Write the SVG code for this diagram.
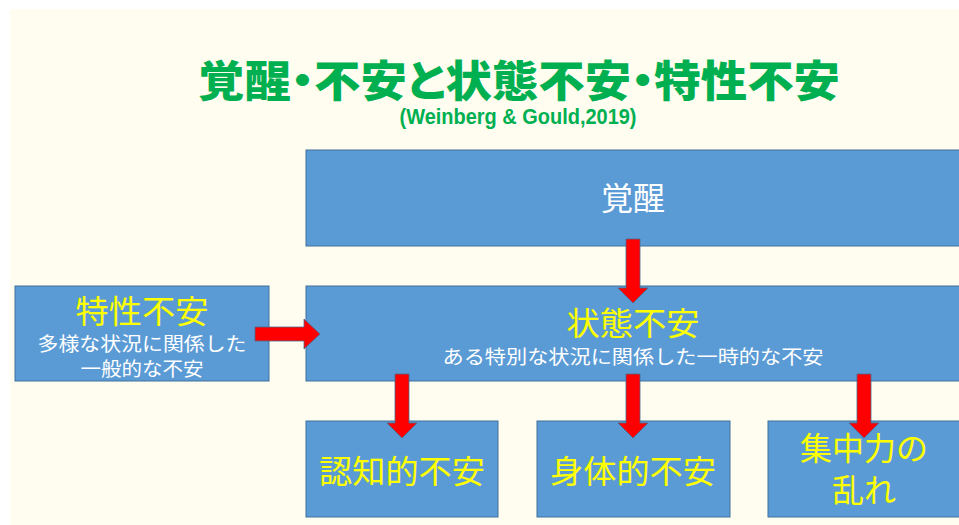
<svg xmlns="http://www.w3.org/2000/svg" width="959" height="525" viewBox="0 0 959 525">
  <style>
    .box { fill: #5B9BD5; stroke: #41719C; stroke-width: 1; }
    .arrow { fill: #FF0000; stroke: #4A6A8E; stroke-width: 0.8; }
    .jp { font-family: "Noto Sans CJK JP", "Noto Sans", sans-serif; text-anchor: middle; }
    .big { font-size: 32px; }
    .small { font-size: 19px; }
    .yellow { fill: #FFFF00; }
    .white { fill: #FFFFFF; }
    .title { font-family: "Noto Sans CJK JP", sans-serif; font-weight: 900; font-size: 43px; fill: #00B050; text-anchor: middle; font-feature-settings: "palt" 1; }
    .cite { font-family: "Liberation Sans", Arial, sans-serif; font-weight: bold; font-size: 22px; fill: #00B050; text-anchor: middle; }
  </style>
  <rect x="0" y="0" width="959" height="525" fill="#FFFFFF"/>
  <rect x="10" y="9" width="949" height="516" fill="#FFFCF0"/>

  <g id="title">
    <text class="title" x="519" y="97" textLength="642" lengthAdjust="spacingAndGlyphs">覚醒・不安と状態不安・特性不安</text>
    <text class="cite" x="518" y="124" textLength="237" lengthAdjust="spacingAndGlyphs">(Weinberg &amp; Gould,2019)</text>
  </g>

  <g id="arousal">
    <rect class="box" x="306" y="150" width="660" height="96"/>
    <text class="jp big white" x="633" y="210" textLength="64" lengthAdjust="spacingAndGlyphs">覚醒</text>
  </g>

  <g id="state-anxiety">
    <rect class="box" x="306" y="286" width="660" height="95"/>
    <text class="jp big yellow" x="633" y="335" textLength="133" lengthAdjust="spacingAndGlyphs">状態不安</text>
    <text class="jp small white" x="633" y="364" textLength="381" lengthAdjust="spacingAndGlyphs">ある特別な状況に関係した一時的な不安</text>
  </g>

  <g id="trait-anxiety">
    <rect class="box" x="15" y="286" width="254" height="95"/>
    <text class="jp big yellow" x="142" y="323" font-size="33" textLength="133" lengthAdjust="spacingAndGlyphs">特性不安</text>
    <text class="jp small white" x="142" y="351" textLength="209" lengthAdjust="spacingAndGlyphs">多様な状況に関係した</text>
    <text class="jp small white" x="142" y="376" textLength="123" lengthAdjust="spacingAndGlyphs">一般的な不安</text>
  </g>

  <g id="cognitive-anxiety">
    <rect class="box" x="306" y="421" width="192" height="96"/>
    <text class="jp big yellow" x="402" y="483" textLength="166" lengthAdjust="spacingAndGlyphs">認知的不安</text>
  </g>

  <g id="somatic-anxiety">
    <rect class="box" x="537" y="421" width="193" height="96"/>
    <text class="jp big yellow" x="633" y="483" textLength="166" lengthAdjust="spacingAndGlyphs">身体的不安</text>
  </g>

  <g id="concentration">
    <rect class="box" x="768" y="421" width="195" height="96"/>
    <text class="jp big yellow" x="864" y="460">集中力の</text>
    <text class="jp big yellow" x="864" y="502">乱れ</text>
  </g>

  <g id="connectors">
    <polygon class="arrow" points="255,327 304,327 304,319 320,334 304,349 304,341 255,341"/>
    <polygon class="arrow" points="626,239 640,239 640,288 648,288 633,303 618,288 626,288"/>
    <polygon class="arrow" points="395,374 409,374 409,423 417,423 402,438 387,423 395,423"/>
    <polygon class="arrow" points="626,374 640,374 640,423 648,423 633,438 618,423 626,423"/>
    <polygon class="arrow" points="857,374 871,374 871,423 879,423 864,438 849,423 857,423"/>
  </g>
</svg>
